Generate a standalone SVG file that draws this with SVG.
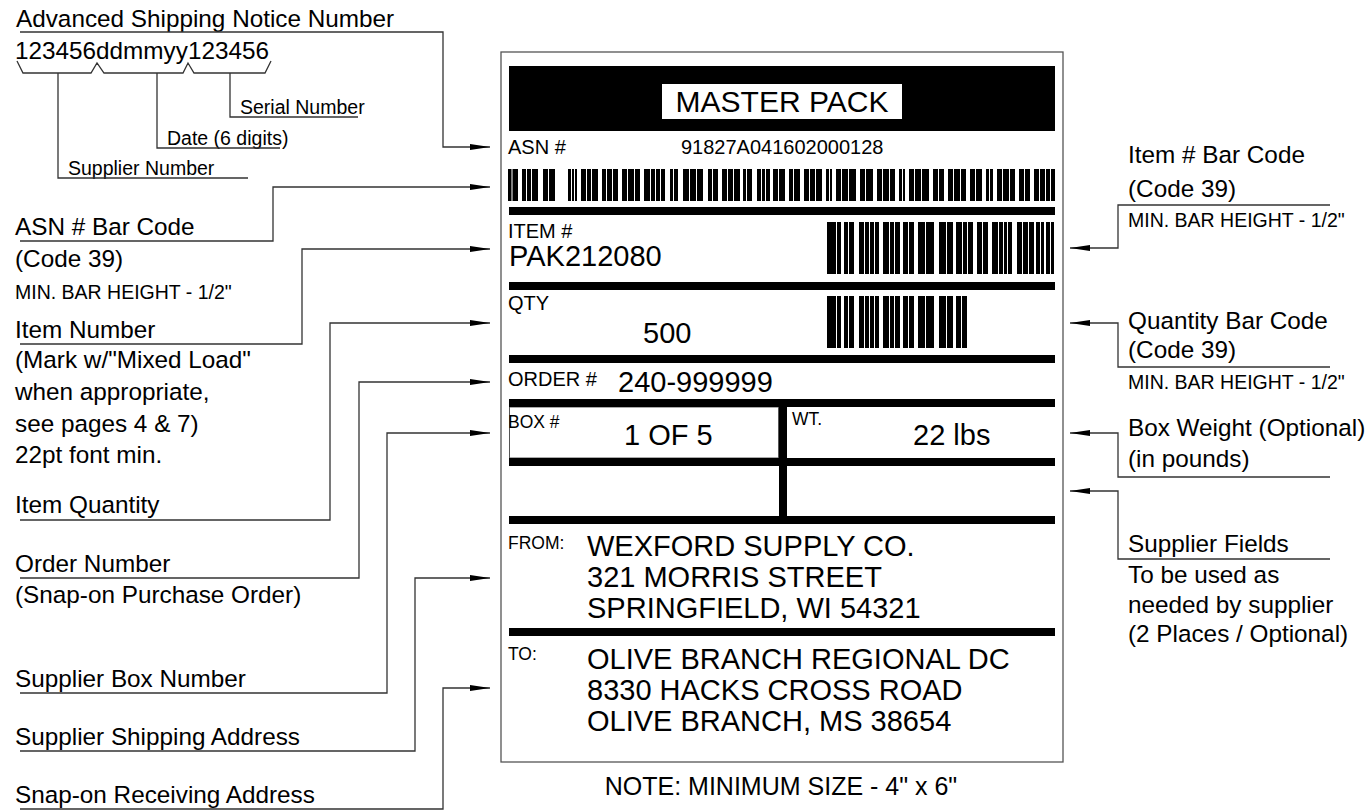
<svg xmlns="http://www.w3.org/2000/svg" width="1366" height="810" viewBox="0 0 1366 810">
<style>
text{font-family:"Liberation Sans",Arial,Helvetica,sans-serif;fill:#000}
.lg{font-size:24.3px}
.sm{font-size:19.5px}
.lb{font-size:20px}
.lbs{font-size:17.5px}
.big{font-size:29px}
.note{font-size:25px}
.conn{fill:none;stroke:#333;stroke-width:1.3}
.rule{fill:#000}
.bk{fill:#000}
.wl{fill:#fff}
</style>
<defs>
<marker id="ah" markerUnits="userSpaceOnUse" markerWidth="20" markerHeight="6" refX="20" refY="3" orient="auto">
<path d="M0,0 L20,3 L0,6 z" fill="#000"/>
</marker>
<g id="bc7">
<rect class="bk" x="827" y="0" width="14" height="52"/><rect class="wl" x="836" y="0" width="1" height="52"/>
<rect class="bk" x="844" y="0" width="10" height="52"/><rect class="wl" x="848" y="0" width="1" height="52"/>
<rect class="bk" x="859" y="0" width="20" height="52"/><rect class="wl" x="864" y="0" width="1" height="52"/><rect class="wl" x="869" y="0" width="1" height="52"/><rect class="wl" x="874" y="0" width="1" height="52"/>
<rect class="bk" x="883" y="0" width="17" height="52"/><rect class="wl" x="889" y="0" width="1" height="52"/><rect class="wl" x="894" y="0" width="1" height="52"/>
<rect class="bk" x="903" y="0" width="11" height="52"/><rect class="wl" x="908" y="0" width="1" height="52"/>
<rect class="bk" x="918" y="0" width="16" height="52"/><rect class="wl" x="925" y="0" width="1" height="52"/>
<rect class="bk" x="939" y="0" width="14" height="52"/><rect class="wl" x="946" y="0" width="1" height="52"/>
</g>
</defs>
<rect width="1366" height="810" fill="#fff"/>

<g id="asn-breakdown">
<text class="lg" x="16" y="27">Advanced Shipping Notice Number</text>
<text class="lg" x="15" y="59">123456ddmmyy123456</text>
<polyline class="conn" points="17,61 23,73 91,73 97,63 104,73 183,73 188,63 194,73 265,73 271,61"/>
<text class="sm" x="240" y="114">Serial Number</text>
<text class="sm" x="167" y="145">Date (6 digits)</text>
<text class="sm" x="68" y="175">Supplier Number</text>
</g>

<g id="left-labels">
<text class="lg" x="15" y="235">ASN # Bar Code</text>
<text class="lg" x="15" y="267">(Code 39)</text>
<text class="sm" x="15" y="299">MIN. BAR HEIGHT - 1/2"</text>
<text class="lg" x="15" y="338">Item Number</text>
<text class="lg" x="15" y="368">(Mark w/"Mixed Load"</text>
<text class="lg" x="15" y="400">when appropriate,</text>
<text class="lg" x="15" y="432">see pages 4 &amp; 7)</text>
<text class="lg" x="15" y="463">22pt font min.</text>
<text class="lg" x="15" y="513">Item Quantity</text>
<text class="lg" x="15" y="572">Order Number</text>
<text class="lg" x="15" y="603">(Snap-on Purchase Order)</text>
<text class="lg" x="15" y="687">Supplier Box Number</text>
<text class="lg" x="15" y="745">Supplier Shipping Address</text>
<text class="lg" x="15" y="803">Snap-on Receiving Address</text>
</g>

<g id="right-labels">
<text class="lg" x="1128" y="163">Item # Bar Code</text>
<text class="lg" x="1128" y="197">(Code 39)</text>
<text class="sm" x="1128" y="227">MIN. BAR HEIGHT - 1/2"</text>
<text class="lg" x="1128" y="329">Quantity Bar Code</text>
<text class="lg" x="1128" y="358">(Code 39)</text>
<text class="sm" x="1128" y="389">MIN. BAR HEIGHT - 1/2"</text>
<text class="lg" x="1128" y="436">Box Weight (Optional)</text>
<text class="lg" x="1128" y="467">(in pounds)</text>
<text class="lg" x="1128" y="552">Supplier Fields</text>
<text class="lg" x="1128" y="583">To be used as</text>
<text class="lg" x="1128" y="613">needed by supplier</text>
<text class="lg" x="1128" y="642">(2 Places / Optional)</text>
</g>

<g id="connectors">
<path class="conn" d="M58,73 V178 H248"/>
<path class="conn" d="M157,73 V148 H280"/>
<path class="conn" d="M230,73 V117 H358"/>
<path class="conn" marker-end="url(#ah)" d="M20,32 H443 V147 H490"/>
<path class="conn" marker-end="url(#ah)" d="M20,241 H273 V187 H490"/>
<path class="conn" marker-end="url(#ah)" d="M20,344 H302 V249 H490"/>
<path class="conn" marker-end="url(#ah)" d="M20,520 H330 V323 H490"/>
<path class="conn" marker-end="url(#ah)" d="M20,578 H359 V382 H490"/>
<path class="conn" marker-end="url(#ah)" d="M20,693 H387 V433 H490"/>
<path class="conn" marker-end="url(#ah)" d="M20,751 H415 V578 H490"/>
<path class="conn" marker-end="url(#ah)" d="M20,809 H443 V688 H490"/>
<path class="conn" marker-end="url(#ah)" d="M1330,205 H1118 V248 H1070"/>
<path class="conn" marker-end="url(#ah)" d="M1330,367 H1118 V323 H1070"/>
<path class="conn" marker-end="url(#ah)" d="M1330,477 H1118 V433 H1070"/>
<path class="conn" marker-end="url(#ah)" d="M1330,559 H1118 V491 H1070"/>
</g>

<g id="label">
<rect x="501" y="52" width="562" height="710" fill="#fff" stroke="#555" stroke-width="1.3"/>
<rect x="509" y="66" width="546" height="65" fill="#000"/>
<rect x="662" y="84" width="240" height="35" fill="#fff"/>
<text x="782" y="112" text-anchor="middle" style="font-size:30px">MASTER PACK</text>

<text class="lb" x="508" y="154">ASN #</text>
<text class="lb" x="681" y="154">91827A041602000128</text>
<g id="asn-barcode" transform="translate(0,169)">
<rect class="bk" x="508" y="0" width="10" height="32"/><rect class="wl" x="511.5" y="0" width="1" height="32"/>
<rect class="bk" x="522" y="0" width="16" height="32"/><rect class="wl" x="526" y="0" width="1" height="32"/><rect class="wl" x="531" y="0" width="1" height="32"/>
<rect class="bk" x="543" y="0" width="12" height="32"/><rect class="wl" x="548" y="0" width="1" height="32"/>
<rect class="bk" x="568" y="0" width="9" height="32"/><rect class="wl" x="571" y="0" width="1" height="32"/><rect class="wl" x="574" y="0" width="1" height="32"/>
<rect class="bk" x="581" y="0" width="17" height="32"/><rect class="wl" x="586" y="0" width="1" height="32"/><rect class="wl" x="591" y="0" width="1" height="32"/>
<rect class="bk" x="602" y="0" width="16" height="32"/><rect class="wl" x="606" y="0" width="1" height="32"/><rect class="wl" x="612" y="0" width="1" height="32"/>
<rect class="bk" x="622" y="0" width="18" height="32"/><rect class="wl" x="627" y="0" width="1" height="32"/><rect class="wl" x="634" y="0" width="1" height="32"/>
<rect class="bk" x="644" y="0" width="21" height="32"/><rect class="wl" x="650" y="0" width="1" height="32"/><rect class="wl" x="655" y="0" width="1" height="32"/><rect class="wl" x="660" y="0" width="1" height="32"/>
<rect class="bk" x="670" y="0" width="8" height="32"/><rect class="wl" x="673" y="0" width="1" height="32"/>
<rect class="bk" x="683" y="0" width="20" height="32"/><rect class="wl" x="689" y="0" width="1" height="32"/><rect class="wl" x="696" y="0" width="1" height="32"/>
<rect class="bk" x="708" y="0" width="10" height="32"/><rect class="wl" x="712" y="0" width="1" height="32"/>
<rect class="bk" x="722" y="0" width="18" height="32"/><rect class="wl" x="727" y="0" width="1" height="32"/><rect class="wl" x="733" y="0" width="1" height="32"/>
<rect class="bk" x="743" y="0" width="9" height="32"/><rect class="wl" x="746" y="0" width="1" height="32"/>
<rect class="bk" x="757" y="0" width="13" height="32"/><rect class="wl" x="761" y="0" width="1" height="32"/><rect class="wl" x="765" y="0" width="1" height="32"/>
<rect class="bk" x="773" y="0" width="12" height="32"/><rect class="wl" x="778" y="0" width="1" height="32"/>
<rect class="bk" x="789" y="0" width="11" height="32"/><rect class="wl" x="793" y="0" width="1" height="32"/>
<rect class="bk" x="804" y="0" width="18" height="32"/><rect class="wl" x="809" y="0" width="1" height="32"/><rect class="wl" x="815" y="0" width="1" height="32"/>
<rect class="bk" x="826" y="0" width="6" height="32"/><rect class="wl" x="829" y="0" width="1" height="32"/>
<rect class="bk" x="836" y="0" width="20" height="32"/><rect class="wl" x="841" y="0" width="1" height="32"/><rect class="wl" x="848" y="0" width="1" height="32"/>
<rect class="bk" x="860" y="0" width="13" height="32"/><rect class="wl" x="865" y="0" width="1" height="32"/>
<rect class="bk" x="877" y="0" width="18" height="32"/><rect class="wl" x="882" y="0" width="1" height="32"/><rect class="wl" x="889" y="0" width="1" height="32"/>
<rect class="bk" x="899" y="0" width="6" height="32"/><rect class="wl" x="902" y="0" width="1" height="32"/>
<rect class="bk" x="909" y="0" width="20" height="32"/><rect class="wl" x="914" y="0" width="1" height="32"/><rect class="wl" x="921" y="0" width="1" height="32"/>
<rect class="bk" x="933" y="0" width="11" height="32"/><rect class="wl" x="938" y="0" width="1" height="32"/>
<rect class="bk" x="948" y="0" width="18" height="32"/><rect class="wl" x="953" y="0" width="1" height="32"/><rect class="wl" x="960" y="0" width="1" height="32"/>
<rect class="bk" x="970" y="0" width="12" height="32"/><rect class="wl" x="975" y="0" width="1" height="32"/>
<rect class="bk" x="986" y="0" width="7" height="32"/><rect class="wl" x="989" y="0" width="1" height="32"/>
<rect class="bk" x="997" y="0" width="18" height="32"/><rect class="wl" x="1002" y="0" width="1" height="32"/><rect class="wl" x="1009" y="0" width="1" height="32"/>
<rect class="bk" x="1019" y="0" width="11" height="32"/><rect class="wl" x="1024" y="0" width="1" height="32"/>
<rect class="bk" x="1034" y="0" width="21" height="32"/><rect class="wl" x="1039" y="0" width="1" height="32"/><rect class="wl" x="1045" y="0" width="1" height="32"/><rect class="wl" x="1050" y="0" width="1" height="32"/>
</g>

<text class="lb" x="508" y="238">ITEM #</text>
<text class="big" x="509" y="266">PAK212080</text>
<g id="item-barcode" transform="translate(0,222)">
<use href="#bc7"/>
<rect class="bk" x="956" y="0" width="17" height="52"/><rect class="wl" x="962" y="0" width="1" height="52"/><rect class="wl" x="967" y="0" width="1" height="52"/>
<rect class="bk" x="977" y="0" width="11" height="52"/><rect class="wl" x="982" y="0" width="1" height="52"/>
<rect class="bk" x="992" y="0" width="20" height="52"/><rect class="wl" x="998" y="0" width="1" height="52"/><rect class="wl" x="1003" y="0" width="1" height="52"/><rect class="wl" x="1007" y="0" width="1" height="52"/>
<rect class="bk" x="1017" y="0" width="17" height="52"/><rect class="wl" x="1022" y="0" width="1" height="52"/><rect class="wl" x="1028" y="0" width="1" height="52"/>
<rect class="bk" x="1036" y="0" width="8" height="52"/><rect class="wl" x="1040" y="0" width="1" height="52"/>
<rect class="bk" x="1046" y="0" width="8" height="52"/><rect class="wl" x="1050" y="0" width="1" height="52"/>
</g>

<text class="lb" x="508" y="310">QTY</text>
<text class="big" x="643" y="343">500</text>
<g id="qty-barcode" transform="translate(0,296)">
<use href="#bc7"/>
<rect class="bk" x="956" y="0" width="11" height="52"/><rect class="wl" x="961" y="0" width="1" height="52"/>
</g>

<text class="lb" x="508" y="386">ORDER #</text>
<text class="big" x="618" y="392">240-999999</text>

<rect x="509.5" y="407" width="269" height="51" fill="none" stroke="#555" stroke-width="1"/>
<text class="lbs" x="508" y="428">BOX #</text>
<text class="big" x="624" y="445">1 OF 5</text>
<text class="lbs" x="792" y="425">WT.</text>
<text class="big" x="913" y="445">22 lbs</text>

<text class="lbs" x="508" y="549">FROM:</text>
<text class="big" x="587" y="556">WEXFORD SUPPLY CO.</text>
<text class="big" x="587" y="587">321 MORRIS STREET</text>
<text class="big" x="587" y="618">SPRINGFIELD, WI 54321</text>

<text class="lbs" x="508" y="660">TO:</text>
<text class="big" x="587" y="669">OLIVE BRANCH REGIONAL DC</text>
<text class="big" x="587" y="700">8330 HACKS CROSS ROAD</text>
<text class="big" x="587" y="731">OLIVE BRANCH, MS 38654</text>

<rect class="rule" x="509" y="207" width="546" height="8"/>
<rect class="rule" x="509" y="282" width="546" height="8"/>
<rect class="rule" x="509" y="355" width="546" height="8"/>
<rect class="rule" x="509" y="399" width="546" height="8"/>
<rect class="rule" x="509" y="458" width="546" height="8"/>
<rect class="rule" x="509" y="516" width="546" height="8"/>
<rect class="rule" x="509" y="628" width="546" height="8"/>
<rect class="rule" x="779" y="399" width="8" height="125"/>
</g>

<g id="note">
<text class="note" x="781" y="795" text-anchor="middle">NOTE: MINIMUM SIZE - 4" x 6"</text>
</g>
</svg>
